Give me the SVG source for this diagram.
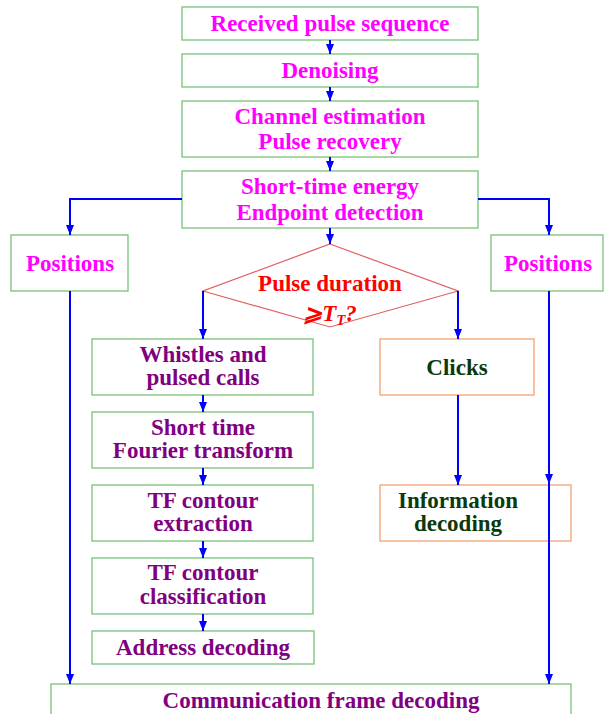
<svg xmlns="http://www.w3.org/2000/svg" width="605" height="714" viewBox="0 0 605 714">
<defs>
<marker id="ah" markerUnits="userSpaceOnUse" markerWidth="10" markerHeight="12" viewBox="0 0 10 12" refX="10" refY="5" orient="auto">
<path d="M0,1 L10,5 L0,9 Z" fill="#0000ff"/>
</marker>
</defs>
<style>
rect.g{fill:#fff;stroke:#78c078;stroke-width:1.3}
rect.o{fill:#fff;stroke:#f5a070;stroke-width:1.3}
text{font-family:'Liberation Serif','Times New Roman',serif;font-weight:bold;font-size:23px;text-anchor:middle}
.m{fill:#ff00ff}
.p{fill:#800080}
.d{fill:#0a3a0a}
.r{fill:#ff0000}
.c{fill:none;stroke:#0000ff;stroke-width:2;marker-end:url(#ah)}
</style>
<g id="n1"><rect class="g" x="182" y="7" width="296" height="33"/><text class="m" x="330" y="31">Received pulse sequence</text></g>
<g id="n2"><rect class="g" x="182" y="54" width="296" height="33"/><text class="m" x="330" y="78">Denoising</text></g>
<g id="n3"><rect class="g" x="182" y="101" width="296" height="56"/><text class="m" x="330" y="124">Channel estimation</text><text class="m" x="330" y="149">Pulse recovery</text></g>
<g id="n4"><rect class="g" x="182" y="171" width="296" height="57"/><text class="m" x="330" y="194">Short-time energy</text><text class="m" x="330" y="220">Endpoint detection</text></g>
<g id="posL"><rect class="g" x="11" y="235" width="117" height="56"/><text class="m" x="70" y="271">Positions</text></g>
<g id="posR"><rect class="g" x="491" y="235" width="112" height="56"/><text class="m" x="548" y="271">Positions</text></g>
<g id="decision"><polygon points="330,244 458,291 330,327 203,291" fill="#fff" stroke="#e06060" stroke-width="1.2"/><text class="r" x="330" y="291">Pulse duration</text><text class="r" x="330" y="321" font-style="italic">⩾<tspan>T</tspan><tspan font-size="15" dy="4">T</tspan><tspan dy="-4">?</tspan></text></g>
<g id="whistles"><rect class="g" x="92" y="339" width="221" height="56"/><text class="p" x="203" y="362">Whistles and</text><text class="p" x="203" y="385">pulsed calls</text></g>
<g id="clicks"><rect class="o" x="380" y="339" width="154" height="56"/><text class="d" x="457" y="375">Clicks</text></g>
<g id="stft"><rect class="g" x="92" y="412" width="221" height="56"/><text class="p" x="203" y="435">Short time</text><text class="p" x="203" y="458">Fourier transform</text></g>
<g id="tfext"><rect class="g" x="92" y="485" width="221" height="56"/><text class="p" x="203" y="508">TF contour</text><text class="p" x="203" y="531">extraction</text></g>
<g id="info"><rect class="o" x="380" y="485" width="191" height="56" style="fill:none"/><text class="d" x="458" y="508">Information</text><text class="d" x="458" y="531">decoding</text></g>
<g id="tfcls"><rect class="g" x="92" y="558" width="221" height="56"/><text class="p" x="203" y="580">TF contour</text><text class="p" x="203" y="604">classification</text></g>
<g id="addr"><rect class="g" x="92" y="631" width="222" height="33"/><text class="p" x="203" y="655">Address decoding</text></g>
<g id="comm"><rect class="g" x="51" y="684" width="520" height="40"/><text class="p" x="321" y="708">Communication frame decoding</text></g>
<g id="connectors">
<path class="c" d="M330,40 V54"/>
<path class="c" d="M330,87 V101"/>
<path class="c" d="M330,157 V171"/>
<path class="c" d="M330,228 V244"/>
<path class="c" d="M182,199 H70 V235"/>
<path class="c" d="M478,199 H549 V235"/>
<path class="c" d="M203,291 V339"/>
<path class="c" d="M458,291 V339"/>
<path class="c" d="M203,395 V412"/>
<path class="c" d="M203,468 V485"/>
<path class="c" d="M203,541 V558"/>
<path class="c" d="M203,614 V631"/>
<path class="c" d="M458,395 V485"/>
<path class="c" d="M70,291 V684"/>
<path class="c" d="M549,291 V484"/>
<path class="c" d="M549,484 V684"/>
</g>
</svg>
